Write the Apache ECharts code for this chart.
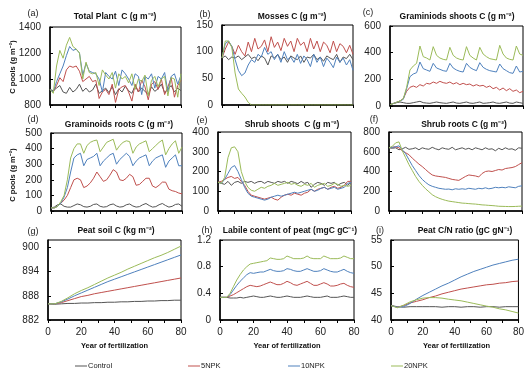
<!DOCTYPE html>
<html>
<head>
<meta charset="utf-8">
<script src="https://cdn.jsdelivr.net/npm/echarts@6/dist/echarts.min.js"></script>
<style>
html, body { margin: 0; padding: 0; background: #fff; }
#chart { width: 527px; height: 373px; }
</style>
</head>
<body>
<div id="chart"></div>
<script>
var treatments = ['Control', '5NPK', '10NPK', '20NPK'];
var colors = ['#555555', '#c0504d', '#4f81bd', '#9bbb59'];

var years2 = [0,2,4,6,8,10,12,14,16,18,20,22,24,26,28,30,32,34,36,38,40,42,44,46,48,50,52,54,56,58,60,62,64,66,68,70,72,74,76,78,80];
var years4 = [0,4,8,12,16,20,24,28,32,36,40,44,48,52,56,60,64,68,72,76,80];

// (a) total plant C
var plantCtrl = [920,910,930,950,900,890,935,900,920,960,905,930,900,915,960,890,910,930,895,940,880,925,900,945,910,890,950,900,930,905,880,940,905,925,960,895,920,950,900,930,910];
var plant5 = [920,900,950,1010,980,1070,1100,1090,1100,1060,980,1000,1020,980,990,850,900,920,880,960,820,920,940,950,900,830,960,900,990,940,840,960,980,920,1000,880,940,1010,860,950,990];
var plant10 = [920,900,980,1040,1100,1180,1250,1220,1230,1200,1030,1120,1060,1050,1040,1000,900,1050,1020,1000,1060,950,1070,1040,1000,950,1040,1020,880,1020,1000,1040,930,1020,1000,1050,900,1020,1040,960,1030];
var plant20 = [920,890,1100,1220,1160,1260,1320,1250,1230,1200,1000,1130,1050,1040,1050,950,1070,1030,1000,1050,930,1040,1000,1020,970,1040,920,1000,980,1030,870,990,1020,940,1000,1020,870,1010,1000,860,1040];

// (b) mosses C
var mossCtrl = [88,92,85,90,88,92,85,90,95,87,90,83,92,88,75,92,88,95,85,90,80,92,88,85,92,80,90,88,95,85,90,82,92,88,85,95,80,90,87,95,85];
var moss5 = [88,105,118,110,95,112,100,92,118,100,125,105,110,122,100,128,108,118,102,125,110,120,100,125,112,118,100,125,105,120,100,118,112,98,120,100,115,110,98,112,95];
var moss10 = [88,115,120,110,85,65,55,60,75,85,80,95,90,108,95,100,85,95,80,100,85,90,80,95,78,92,85,72,95,80,90,72,88,80,70,90,80,88,75,85,65];
var moss20 = [88,120,120,108,60,30,22,15,5,0,0,0,0,0,0,0,0,0,0,0,0,0,0,0,0,0,0,0,0,0,0,0,0,0,0,0,0,0,0,0,0];

// (c) graminoid shoots C
var gshootCtrl = [10,20,25,30,25,20,20,25,30,35,25,22,20,25,30,25,22,20,25,30,22,20,25,30,22,20,25,30,20,22,25,30,22,20,25,30,22,20,30,25,20];
var gshoot5 = [10,18,28,38,55,110,140,150,140,160,150,170,165,180,170,185,175,170,180,165,175,160,170,160,165,150,160,150,155,140,150,130,140,120,135,115,130,110,120,100,110];
var gshoot10 = [10,18,28,38,50,130,220,240,250,330,280,270,260,320,285,275,265,260,320,285,270,260,255,320,290,275,265,325,290,275,265,260,255,315,280,265,250,245,300,255,260];
var gshoot20 = [10,18,28,38,55,140,270,300,320,450,370,360,345,445,380,360,350,345,440,380,360,350,345,445,380,360,345,440,390,370,355,350,345,455,390,360,350,345,450,390,380];

// (d) graminoid roots C
var grootCtrl = [20,25,40,45,30,25,25,35,45,40,28,25,30,42,45,30,25,28,40,45,32,25,28,40,45,32,25,28,40,48,35,25,28,40,48,35,25,30,42,45,30];
var groot5 = [20,20,30,50,70,100,150,200,210,200,150,160,180,210,250,220,190,200,230,265,250,200,195,210,235,220,165,170,190,210,210,160,150,165,185,185,140,130,125,115,110];
var groot10 = [20,20,30,50,90,150,250,340,360,370,290,330,340,350,370,290,320,340,360,370,300,330,350,370,350,290,320,340,350,360,290,320,340,350,360,280,320,340,360,290,290];
var groot20 = [20,20,30,60,100,200,340,400,430,430,370,420,440,450,455,380,410,440,450,460,390,420,440,450,445,370,410,430,440,450,380,400,420,440,455,360,400,430,450,370,410];

// (e) shrub shoots C
var sshootCtrl = [150,140,135,150,130,145,150,140,150,145,150,140,148,150,140,150,145,140,150,145,150,140,150,145,138,150,140,145,120,135,145,140,130,145,140,145,130,140,145,130,145];
var sshoot5 = [145,150,160,170,175,165,170,150,130,100,80,75,70,65,60,65,70,60,55,70,80,85,80,90,85,80,90,95,110,100,110,115,120,110,120,125,115,120,130,150,150];
var sshoot10 = [145,140,160,190,220,230,200,160,120,90,75,70,65,60,55,60,70,75,80,75,80,85,90,95,90,95,100,105,110,100,105,115,120,110,115,120,110,115,120,140,145];
var sshoot20 = [145,140,170,270,320,325,300,200,150,120,105,100,110,120,115,125,130,140,130,135,140,145,135,140,130,125,135,130,140,120,130,135,140,125,130,140,135,125,130,125,130];

// (f) shrub roots C
var srootCtrl = [640,635,640,620,630,645,625,630,640,620,640,630,625,645,630,620,640,630,625,645,620,630,640,625,635,620,640,630,620,640,625,630,610,635,620,640,625,630,615,640,635];
var sroot5 = [640,645,650,640,610,590,570,535,505,475,450,420,390,365,355,350,345,340,330,320,315,310,330,350,365,360,355,345,380,400,405,400,410,420,415,430,435,440,450,470,490];
var sroot10 = [640,645,650,660,620,580,520,460,410,360,320,290,265,250,240,230,225,220,222,215,225,220,225,220,230,225,220,230,225,235,225,230,240,235,240,235,245,240,235,250,255];
var sroot20 = [640,655,690,700,610,540,470,410,350,300,260,225,195,165,145,130,118,108,100,95,90,85,80,78,75,72,70,66,62,60,57,55,52,48,47,46,45,45,46,48,50];

// (g) peat soil C
var peatCtrl = [886.0,885.9,886.0,886.1,886.1,886.2,886.2,886.3,886.3,886.4,886.4,886.5,886.5,886.6,886.6,886.7,886.7,886.8,886.8,886.9,886.9];
var peat5 = [886.0,886.0,886.3,886.8,887.3,887.8,888.1,888.5,888.8,889.1,889.4,889.7,890.0,890.3,890.6,890.9,891.2,891.5,891.8,892.1,892.4];
var peat10 = [886.0,886.0,886.5,887.2,888.0,888.7,889.4,890.1,890.8,891.5,892.1,892.7,893.3,893.9,894.5,895.1,895.7,896.3,896.9,897.5,898.1];
var peat20 = [886.0,886.0,886.6,887.5,888.5,889.3,890.0,890.8,891.6,892.4,893.1,893.8,894.6,895.3,896.0,896.7,897.4,898.0,898.7,899.5,900.3];

// (h) labile content of peat
var labileCtrl = [0.34,0.34,0.34,0.33,0.33,0.33,0.34,0.33,0.34,0.35,0.36,0.35,0.34,0.34,0.35,0.36,0.35,0.34,0.34,0.35,0.36,0.35,0.34,0.34,0.34,0.35,0.36,0.35,0.34,0.34,0.34,0.35,0.36,0.34,0.34,0.34,0.35,0.36,0.35,0.34,0.34];
var labile5 = [0.34,0.34,0.34,0.36,0.38,0.41,0.44,0.47,0.50,0.52,0.51,0.50,0.51,0.53,0.55,0.57,0.55,0.53,0.53,0.55,0.58,0.56,0.53,0.52,0.54,0.56,0.58,0.55,0.52,0.52,0.54,0.56,0.54,0.51,0.51,0.52,0.54,0.55,0.52,0.50,0.49];
var labile10 = [0.34,0.34,0.34,0.38,0.45,0.52,0.58,0.63,0.68,0.71,0.70,0.71,0.72,0.72,0.74,0.76,0.74,0.73,0.73,0.74,0.77,0.76,0.74,0.73,0.73,0.75,0.77,0.75,0.73,0.73,0.74,0.77,0.75,0.73,0.72,0.72,0.74,0.76,0.73,0.71,0.70];
var labile20 = [0.34,0.34,0.34,0.40,0.50,0.60,0.68,0.75,0.80,0.84,0.85,0.86,0.87,0.88,0.89,0.93,0.92,0.91,0.91,0.92,0.96,0.94,0.92,0.92,0.92,0.93,0.96,0.93,0.92,0.92,0.92,0.96,0.94,0.92,0.92,0.92,0.93,0.96,0.94,0.92,0.92];

// (i) peat C/N ratio
var cnCtrl = [42.7,42.5,42.4,42.5,42.5,42.5,42.5,42.5,42.4,42.5,42.5,42.4,42.5,42.5,42.4,42.5,42.5,42.4,42.5,42.5,42.5];
var cn5 = [42.7,42.4,42.7,43.2,43.5,43.8,44.2,44.5,44.9,45.2,45.5,45.8,46.0,46.2,46.4,46.6,46.7,46.9,47.0,47.2,47.3];
var cn10 = [42.7,42.4,42.5,43.1,43.9,44.6,45.2,45.8,46.4,46.9,47.5,48.1,48.6,49.1,49.5,49.9,50.3,50.6,50.9,51.2,51.4];
var cn20 = [42.7,42.3,42.8,43.4,43.8,44.1,44.2,44.2,44.1,43.9,43.75,43.6,43.35,43.1,42.85,42.6,42.4,42.1,41.9,41.6,41.3];

var font = '"Liberation Sans", Arial, sans-serif';

var panels = [
    { label: '(a)', lx: 33, ly: 14, title: 'Total Plant  C (g m\u207B\u00B2)', tx: 115, ty: 17,
      grid: [50, 27, 131, 78], y: [800, 1400, 200], years: years2, data: [plantCtrl, plant5, plant10, plant20] },
    { label: '(b)', lx: 205, ly: 15, title: 'Mosses C (g m\u207B\u00B2)', tx: 292, ty: 17,
      grid: [222, 25, 131, 80], y: [0, 150, 50], years: years2, data: [mossCtrl, moss5, moss10, moss20] },
    { label: '(c)', lx: 368, ly: 13, title: 'Graminiods shoots C (g m\u207B\u00B2)', tx: 457, ty: 17,
      grid: [390, 26, 133, 80], y: [0, 600, 200], years: years2, data: [gshootCtrl, gshoot5, gshoot10, gshoot20] },
    { label: '(d)', lx: 33, ly: 120, title: 'Graminoids roots C (g m\u207B\u00B2)', tx: 119, ty: 125,
      grid: [51, 133, 131, 78], y: [0, 500, 100], years: years2, data: [grootCtrl, groot5, groot10, groot20] },
    { label: '(e)', lx: 202, ly: 121, title: 'Shrub shoots  C (g m\u207B\u00B2)', tx: 292, ty: 125,
      grid: [218, 132, 133, 79], y: [0, 400, 100], years: years2, data: [sshootCtrl, sshoot5, sshoot10, sshoot20] },
    { label: '(f)', lx: 374, ly: 120, title: 'Shrub roots C (g m\u207B\u00B2)', tx: 464, ty: 125,
      grid: [389, 132, 133, 79], y: [0, 800, 200], years: years2, data: [srootCtrl, sroot5, sroot10, sroot20] },
    { label: '(g)', lx: 33, ly: 232, title: 'Peat soil C (kg m\u207B\u00B2)', tx: 116, ty: 231,
      grid: [48, 240, 133, 80], y: [882, 901.8, 6], years: years4, data: [peatCtrl, peat5, peat10, peat20], xlab: true, hideMax: true },
    { label: '(h)', lx: 207, ly: 231, title: 'Labile content of peat (mgC gC\u207B\u00B9)', tx: 290, ty: 231,
      grid: [220, 240, 134, 80], y: [0, 1.2, 0.4], years: years2, data: [labileCtrl, labile5, labile10, labile20], xlab: true },
    { label: '(i)', lx: 380, ly: 231, title: 'Peat C/N ratio (gC gN\u207B\u00B9)', tx: 465, ty: 231,
      grid: [391, 240, 131, 80], y: [40, 55, 5], years: years4, data: [cnCtrl, cn5, cn10, cn20], xlab: true }
];

var grids = [], xAxes = [], yAxes = [], series = [], graphics = [];

panels.forEach(function (p, i) {
    grids.push({ left: p.grid[0], top: p.grid[1], width: p.grid[2], height: p.grid[3],
        show: true, borderColor: '#000', borderWidth: 1, backgroundColor: 'transparent' });
    xAxes.push({
        type: 'value', gridIndex: i, min: 0, max: 80, interval: 10,
        axisLine: { lineStyle: { color: '#000', width: 1.5 } },
        axisTick: { show: true, inside: false, length: 3, lineStyle: { color: '#000' } },
        axisLabel: { show: !!p.xlab, margin: 7, color: '#222', fontSize: 10, fontFamily: font,
            formatter: function (v) { return v % 20 === 0 ? String(v) : ''; } },
        splitLine: { show: false }
    });
    yAxes.push({
        type: 'value', gridIndex: i, min: p.y[0], max: p.y[1], interval: p.y[2],
        axisLine: { show: true, lineStyle: { color: '#000', width: 1.5 } },
        axisTick: { show: true, inside: true, length: 3, lineStyle: { color: '#000' } },
        axisLabel: { margin: 9, color: '#222', fontSize: 10, fontFamily: font, showMaxLabel: !p.hideMax,
            formatter: function (v) { return String(Math.round(v * 100) / 100); } },
        splitLine: { show: false }
    });
    p.data.forEach(function (vals, k) {
        series.push({
            name: treatments[k], type: 'line', xAxisIndex: i, yAxisIndex: i,
            symbol: 'none', smooth: false, animation: false,
            lineStyle: { color: colors[k], width: 1 },
            itemStyle: { color: colors[k] },
            data: p.years.map(function (yr, j) { return [yr, vals[j]]; })
        });
    });
    graphics.push({ type: 'text', x: p.lx, y: p.ly,
        style: { text: p.label, font: '9px ' + font, fill: '#222', textAlign: 'center', textVerticalAlign: 'middle' } });
    graphics.push({ type: 'text', x: p.tx, y: p.ty,
        style: { text: p.title, font: 'bold 8.5px ' + font, fill: '#111', textAlign: 'center', textVerticalAlign: 'middle' } });
    if (p.xlab) {
        graphics.push({ type: 'text', x: p.grid[0] + p.grid[2] / 2, y: 346,
            style: { text: 'Year of fertilization', font: 'bold 7.5px ' + font, fill: '#111', textAlign: 'center', textVerticalAlign: 'middle' } });
    }
});

[67, 175].forEach(function (cy) {
    graphics.push({ type: 'text', x: 13, y: cy, rotation: Math.PI / 2,
        style: { text: 'C pools (g m\u207B\u00B2)', font: 'bold 7.5px ' + font, fill: '#111', textAlign: 'center', textVerticalAlign: 'middle' } });
});

var legendLeft = [75, 188, 288, 391];
var legends = treatments.map(function (t, k) {
    return {
        data: [t], left: legendLeft[k], top: 362, orient: 'horizontal', padding: 0,
        icon: 'rect', itemWidth: 12, itemHeight: 1, itemGap: 2,
        selectedMode: false,
        textStyle: { fontSize: 7.5, fontFamily: font, color: '#222', padding: [0, 0, 0, -4] }
    };
});

var chart = echarts.init(document.getElementById('chart'), null, { renderer: 'canvas' });
chart.setOption({
    animation: false,
    backgroundColor: '#fff',
    grid: grids,
    xAxis: xAxes,
    yAxis: yAxes,
    series: series,
    legend: legends,
    graphic: graphics
});
</script>
</body>
</html>
